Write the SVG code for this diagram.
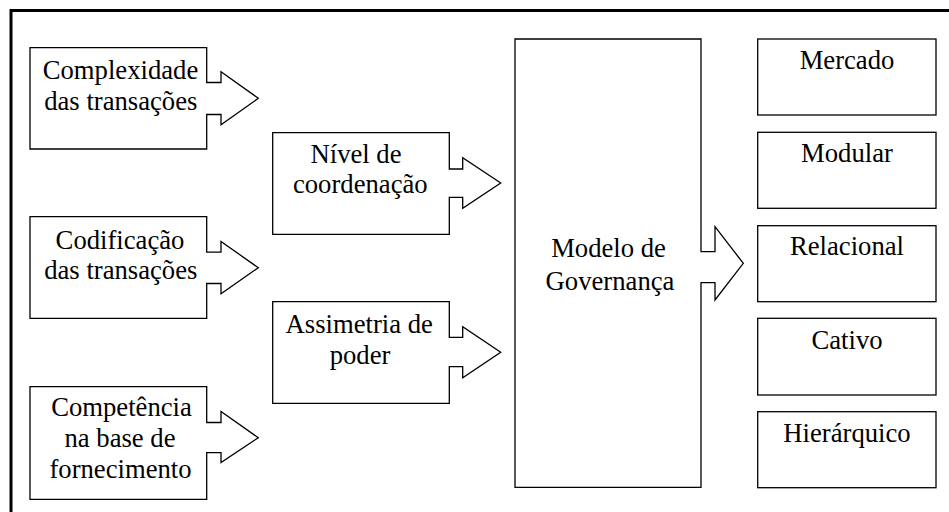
<svg xmlns="http://www.w3.org/2000/svg" width="949" height="512" viewBox="0 0 949 512">
<style>
.s{fill:#fff;stroke:#000;stroke-width:1.3;stroke-linejoin:miter}
</style>
<rect width="949" height="512" fill="#fff"/>
<g id="frame">
<path d="M11,512 V10.5 H949" fill="none" stroke="#000" stroke-width="3"/>
</g>
<g font-family="Liberation Serif" font-size="26.67" text-anchor="middle" fill="#000">
<g id="complexidade">
<path class="s" d="M30,47.7 H206.7 V82.5 H221 V71.8 L258.3,98.3 L221,124.8 V114.5 H206.7 V149 H30 Z"/>
<text x="120.5" y="79">Complexidade</text>
<text x="120.8" y="110">das transações</text>
</g>
<g id="codificacao">
<path class="s" d="M30,216.7 H206.7 V252.2 H221 V241.5 L258.3,267.7 L221,293.8 V283.5 H206.7 V318.3 H30 Z"/>
<text x="120" y="248.5">Codificação</text>
<text x="120.8" y="279.3">das transações</text>
</g>
<g id="competencia">
<path class="s" d="M30,386.7 H206.7 V422.5 H221 V411.5 L258.3,437.7 L221,462.5 V452.7 H206.7 V499.3 H30 Z"/>
<text x="121.5" y="416">Competência</text>
<text x="120" y="447">na base de</text>
<text x="120.5" y="478">fornecimento</text>
</g>
<g id="nivel">
<path class="s" d="M272.7,132.7 H449.3 V169 H462.7 V157.7 L500.7,183 L462.7,208.3 V197.3 H449.3 V234.3 H272.7 Z"/>
<text x="356" y="163.3">Nível de</text>
<text x="360.3" y="193.3">coordenação</text>
</g>
<g id="assimetria">
<path class="s" d="M272.7,301.7 H449.3 V337.3 H462.7 V326.7 L500.7,352.3 L462.7,377.7 V366.7 H449.3 V403.3 H272.7 Z"/>
<text x="359.2" y="333.3">Assimetria de</text>
<text x="360" y="363.5">poder</text>
</g>
<g id="modelo">
<path class="s" d="M515,39 H701 V251.7 H715 V226.7 L743.3,263.3 L715,300 V282.7 H701 V487.3 H515 Z"/>
<text x="608.5" y="257">Modelo de</text>
<text x="610" y="289.5">Governança</text>
</g>
<g id="mercado">
<rect class="s" x="757.7" y="39" width="178.3" height="76"/>
<text x="847" y="68.5">Mercado</text>
</g>
<g id="modular">
<rect class="s" x="757.7" y="132.3" width="178.3" height="76"/>
<text x="847" y="161.7">Modular</text>
</g>
<g id="relacional">
<rect class="s" x="757.7" y="225.7" width="178.3" height="76"/>
<text x="847" y="255">Relacional</text>
</g>
<g id="cativo">
<rect class="s" x="757.7" y="318.3" width="178.3" height="76.7"/>
<text x="847" y="349">Cativo</text>
</g>
<g id="hierarquico">
<rect class="s" x="757.7" y="411.7" width="178.3" height="76"/>
<text x="847" y="442">Hierárquico</text>
</g>
</g>
<g id="connectors"></g>
</svg>
